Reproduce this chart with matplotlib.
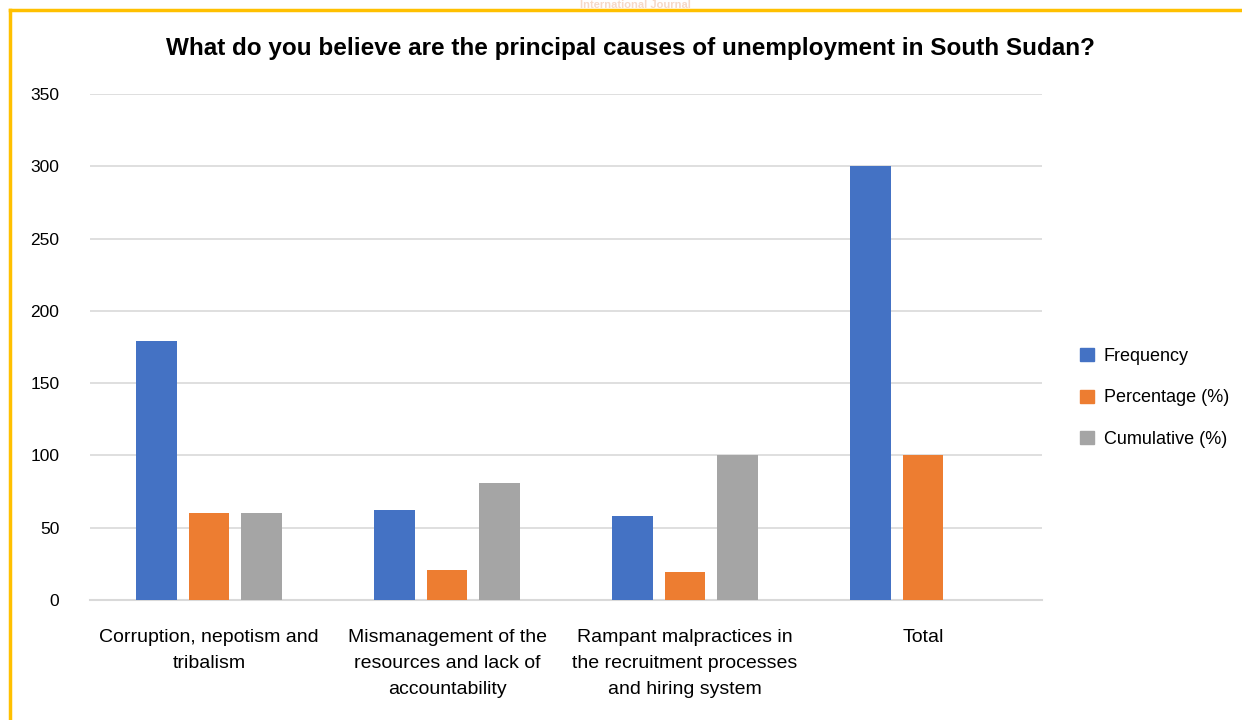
import numpy as np
import matplotlib
matplotlib.use("Agg")
import matplotlib.pyplot as plt
from matplotlib.patches import Patch

# values
categories = [
    "Corruption, nepotism and\ntribalism",
    "Mismanagement of the\nresources and lack of\naccountability",
    "Rampant malpractices in\nthe recruitment processes\nand hiring system",
    "Total",
]
frequency = [179, 62, 58, 300]
percentage = [60, 21, 19.5, 100]
cumulative = [60, 81, 100, np.nan]

series_names = ["Frequency", "Percentage (%)", "Cumulative (%)"]
colors = ["#4472C4", "#ED7D31", "#A5A5A5"]

plt.rcParams["font.family"] = ["Liberation Sans", "DejaVu Sans"]

fig = plt.figure(figsize=(12.42, 7.2), dpi=100)
ax = fig.add_axes([90 / 1242, 1 - 600 / 720, 952 / 1242, 506 / 720])

x = np.arange(len(categories))
width = 0.172
step = 0.22
for i, (vals, name, c) in enumerate(zip([frequency, percentage, cumulative], series_names, colors)):
    ax.bar(x + (i - 1) * step, vals, width, color=c, label=name, zorder=3)

ax.set_xlim(-0.5, len(categories) - 0.5)
ax.set_ylim(0, 350)
ax.set_yticks(np.arange(0, 351, 50))
ax.grid(axis="y", color="#D9D9D9", linewidth=1.2, zorder=0)
for s in ["top", "right", "left"]:
    ax.spines[s].set_visible(False)
ax.spines["bottom"].set_color("#D9D9D9")
ax.spines["bottom"].set_linewidth(1.5)
ax.tick_params(axis="both", length=0, labelsize=12.5, colors="black")
ax.tick_params(axis="y", pad=22)
ax.tick_params(axis="x", pad=21)
ax.set_xticks(x)
ax.set_xticklabels(categories, linespacing=1.68, fontsize=14)

fig.suptitle("What do you believe are the principal causes of unemployment in South Sudan?",
             x=630 / 1242, y=1 - 48 / 720, va="center", fontsize=17.5, fontweight="bold")

handles = [Patch(color=c) for c in colors]
fig.legend(handles, series_names, loc="center left", bbox_to_anchor=(1064 / 1242, 1 - 398 / 720),
           frameon=False, fontsize=13, handlelength=0.75, handleheight=0.75,
           handletextpad=0.55, labelspacing=1.35)

# yellow page border and faint watermark
fig.add_artist(plt.Line2D([10 / 1242, 10 / 1242], [0, 1 - 10 / 720], color="#FFC000", linewidth=2.5))
fig.add_artist(plt.Line2D([10 / 1242, 1], [1 - 10 / 720, 1 - 10 / 720], color="#FFC000", linewidth=2.5))
fig.text(635 / 1242, 1 - 5 / 720, "International Journal", ha="center", va="center",
         fontsize=8, fontweight="bold", color="#F6D9C8", zorder=0)

fig.savefig("out.png", dpi=100)
